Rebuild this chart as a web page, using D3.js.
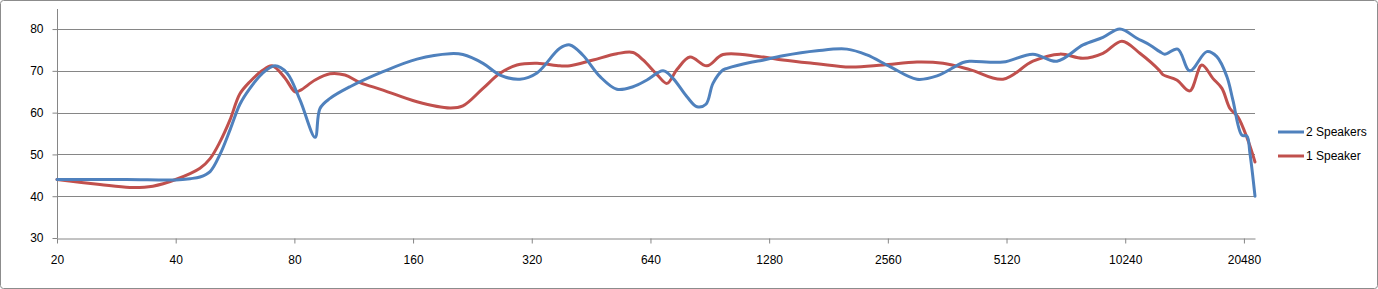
<!DOCTYPE html>
<html>
<head>
<meta charset="utf-8">
<script src="https://cdn.jsdelivr.net/npm/d3@7"></script>
<style>
  body { margin: 0; background: #fff; }
  text { font-family: "Liberation Sans", Arial, sans-serif; font-size: 12px; fill: #000; }
</style>
</head>
<body>
<svg id="chart" width="1378" height="289"></svg>
<script>
// frequency (Hz) and level (dB)
const freqTicks = [20, 40, 80, 160, 320, 640, 1280, 2560, 5120, 10240, 20480];
const levelTicks = [30, 40, 50, 60, 70, 80];

const twoFreq = [20, 30, 40, 43.5, 46.1, 48.9, 51.8, 55, 58.2, 61.7, 66.2, 71.4, 76.6, 82.7, 90.3, 92.9, 98.5, 110.7,
  134.2, 163.7, 198.5, 214, 240.7, 265.8, 298.6, 329.9, 377, 400, 431, 477, 526, 578, 627, 689, 730, 792, 840, 885,
  922, 977, 1001, 1144, 1213, 1387, 1692, 2017, 2266, 2592, 3035, 3412, 3970, 4136, 5015, 5973, 6874, 8003, 8991,
  9929, 10963, 11823, 12532, 12899, 13917, 14926, 16490, 17483, 18546, 19203, 20240, 20837, 21213, 21850];
const twoLevel = [44, 44, 43.9, 44.2, 44.6, 45.9, 50, 56, 62, 65.8, 69.3, 71.2, 69.5, 63, 54.1, 61, 63.4, 66.2,
  69.8, 72.8, 74.1, 73.9, 71.8, 69, 68, 69.5, 75.4, 76.2, 73.8, 68.6, 65.6, 66.2, 67.8, 70, 68.2, 63.8, 61.4, 62,
  67, 70.2, 70.6, 72, 72.4, 73.6, 74.8, 75.2, 73.8, 71, 68, 68.8, 72, 72.3, 72.1, 74, 72.3, 76.2, 78,
  80, 77.8, 76.2, 74.6, 74, 75.2, 70, 74.6, 73.4, 68.6, 63, 54.6, 54.4, 50.3, 40];

const oneFreq = [20, 25.7, 30.6, 35, 40, 46.1, 48.9, 51.8, 54.9, 58.2, 61.7, 66.2, 70.2, 75.7, 80.3, 82.7, 90.3,
  98.5, 107.5, 117.4, 134.2, 163.7, 198.5, 214, 240.7, 265.8, 293.5, 330, 377, 400, 458, 526, 578, 613, 665, 705,
  747, 806, 890, 978, 1213, 1387, 1692, 2052, 2489, 3035, 3534, 4136, 5015, 5973, 6994, 8003, 8991, 10047, 11155,
  12532, 12755, 13835, 14926, 16017, 17084, 18013, 18873, 19770, 20965, 21850];
const oneLevel = [44, 42.8, 42.1, 42.4, 44, 46.7, 49, 53, 58.2, 64.5, 67.4, 70, 71.2, 68.3, 65, 65.3, 67.8,
  69.3, 69, 67.2, 65.4, 62.6, 61.1, 61.6, 65.8, 69.4, 71.4, 71.8, 71.2, 71.2, 72.6, 74.1, 74.4, 72.6, 69.1, 67,
  70.3, 73.3, 71.2, 73.9, 73.4, 72.6, 71.7, 70.9, 71.4, 72.1, 71.8, 70.3, 68, 72.3, 74, 73, 74.2, 77.1, 74.2,
  70, 69.1, 67.8, 65.2, 71.4, 68.2, 65.8, 61, 59, 53.4, 48.2];

const seriesNames = ["2 Speakers", "1 Speaker"];
const seriesColors = ["#4f81bd", "#c0504d"];

const svg = d3.select("svg#chart");
const plotLeft = 57, plotRight = 1255, plotTop = 9, plotBottom = 238;

svg.append("rect")
  .attr("x", 0.5).attr("y", 0.5)
  .attr("width", 1377).attr("height", 288)
  .attr("rx", 3)
  .attr("fill", "#fff")
  .attr("stroke", "#8c8c8c");

let xScale = d3.scaleLog().base(2)
  .domain([20, 21850])
  .range([plotLeft, plotRight]);

let yScale = d3.scaleLinear()
  .domain([30, 84.8])
  .range([plotBottom, plotTop]);

// gridlines
svg.append("g")
  .selectAll("line")
  .data(levelTicks.filter(d => d > 30))
  .enter()
  .append("line")
  .attr("x1", plotLeft).attr("x2", plotRight)
  .attr("y1", d => Math.round(yScale(d)) + 0.5)
  .attr("y2", d => Math.round(yScale(d)) + 0.5)
  .attr("stroke", "#868686");

// y axis
let yAxis = svg.append("g")
  .attr("transform", `translate(${plotLeft + 0.5},0)`)
  .call(d3.axisLeft(yScale).tickValues(levelTicks).tickSize(5).tickPadding(9).tickSizeOuter(0));

// x axis
let xAxis = svg.append("g")
  .attr("transform", `translate(0,${plotBottom + 0.5})`)
  .call(d3.axisBottom(xScale).tickValues(freqTicks).tickFormat(d3.format("d")).tickSize(5).tickPadding(12).tickSizeOuter(0));

[yAxis, xAxis].forEach(a => {
  a.selectAll("path, line").attr("stroke", "#868686");
  a.selectAll("text").style("font-family", "'Liberation Sans', Arial, sans-serif").style("font-size", "12px").attr("fill", "#000");
});
yAxis.select("path.domain").attr("d", `M0,${plotTop}V${plotBottom}`);

let line = d3.line()
  .x(d => xScale(d[0]))
  .y(d => yScale(d[1]))
  .curve(d3.curveCatmullRom.alpha(0.5));

const seriesData = [
  twoFreq.map((f, i) => [f, twoLevel[i]]),
  oneFreq.map((f, i) => [f, oneLevel[i]])
];

// draw red first so blue sits on top where it does in the picture
[1, 0].forEach(i => {
  svg.append("path")
    .datum(seriesData[i])
    .attr("d", line)
    .attr("fill", "none")
    .attr("stroke", seriesColors[i])
    .attr("stroke-width", 3)
    .attr("stroke-linejoin", "round")
    .attr("stroke-linecap", "round");
});

// legend
let legend = svg.append("g")
  .selectAll("g")
  .data(seriesNames)
  .enter()
  .append("g")
  .attr("transform", (d, i) => `translate(1278,${132 + i * 24})`);

legend.append("line")
  .attr("x1", 0).attr("x2", 26)
  .attr("stroke", (d, i) => seriesColors[i])
  .attr("stroke-width", 3);

legend.append("text")
  .attr("x", 28)
  .attr("y", 4)
  .text(d => d);
</script>
</body>
</html>
